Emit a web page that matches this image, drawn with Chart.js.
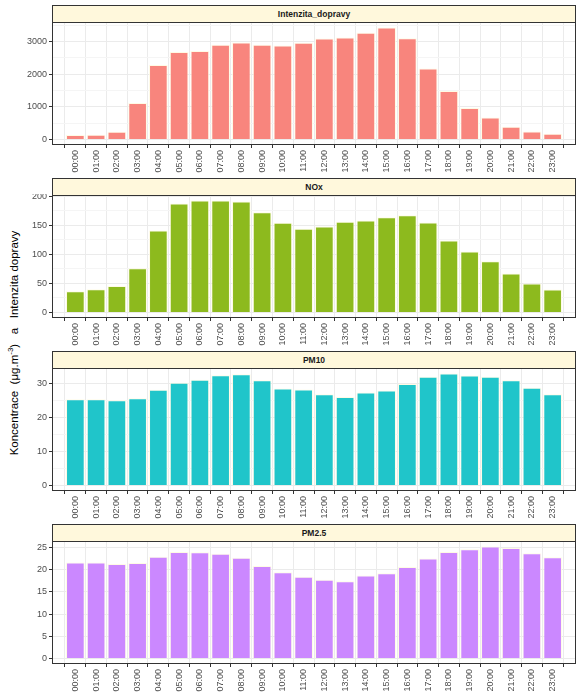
<!DOCTYPE html>
<html lang="cs">
  <head>
    <meta charset="UTF-8" />
    <title>Denní chod</title>
    <script src="https://cdn.jsdelivr.net/npm/chart.js@4"></script>
    <style>
      body { margin: 0; background: #fff; font-family: "Liberation Sans", Arial, sans-serif; }
      #wrap { position: relative; width: 581px; height: 697px; }
      canvas { position: absolute; left: 0; }
      .strip {
        position: absolute; left: 52px; width: 524px; height: 18px;
        box-sizing: border-box; border: 1px solid #333; background: #FFF8DC;
        font-weight: bold; font-size: 8.5px; color: #1a1a1a;
        text-align: center; line-height: 16px;
      }
      #ytitle {
        position: absolute; left: 13px; top: 343px; white-space: pre;
        transform: translate(-50%, -50%) rotate(-90deg);
        font-size: 11.5px; color: #000;
      }
      #ytitle sup { font-size: 8px; }
    </style>
  </head>
  <body>
    <div id="wrap">
      <div id="ytitle">Koncentrace  (μg.m<sup>-3</sup>)   a   Intenzita dopravy</div>
    </div>
  </body>
</html>

<script>
  // data
  const hours = ['00:00','01:00','02:00','03:00','04:00','05:00','06:00','07:00','08:00','09:00','10:00','11:00',
                 '12:00','13:00','14:00','15:00','16:00','17:00','18:00','19:00','20:00','21:00','22:00','23:00'];
  const intenzita = [132,142,233,1117,2284,2680,2711,2904,2975,2904,2883,2964,3096,3127,3269,3431,3107,2173,1482,964,670,386,244,173];
  const nox = [36.6,40,45.7,76,141,187.4,192.6,192.6,190.9,172.6,154.3,144,148,156,158.3,164,167.4,154.9,124,105,88,66.9,49.7,39.4];
  const pm10 = [25.4,25.4,25.1,25.7,28.2,30.3,31.2,32.5,32.8,31.0,28.6,28.3,26.9,26.1,27.4,28.0,29.9,32.1,33.0,32.4,32.1,31.0,28.8,26.9];
  const pm25 = [21.6,21.6,21.3,21.5,22.9,24.0,23.9,23.6,22.7,20.8,19.4,18.4,17.7,17.4,18.7,19.2,20.6,22.5,24.0,24.6,25.2,24.9,23.7,22.8];

  const panelNames = ['Intenzita_dopravy', 'NOx', 'PM10', 'PM2.5'];
  const majorTicks = [[0,1000,2000,3000], [0,50,100,150,200], [0,10,20,30], [0,5,10,15,20,25]];
  const minorTicks = [[500,1500,2500,3500], [25,75,125,175], [5,15,25], [2.5,7.5,12.5,17.5,22.5]];
  const series = [intenzita, nox, pm10, pm25];
  const colors = ['#F8857D', '#8DBA1E', '#20C5CA', '#CB88FF'];

  const stripTops = [5, 178, 351, 524];
  const plotH = 123;

  // panel border (theme_bw look)
  const frame = {
    id: 'frame',
    afterDraw(chart) {
      const a = chart.chartArea, c = chart.ctx;
      c.save();
      c.strokeStyle = '#333';
      c.lineWidth = 1;
      c.strokeRect(Math.round(a.left) + 0.5, Math.round(a.top) + 0.5, Math.round(a.right - a.left) - 1, Math.round(a.bottom - a.top) - 1);
      c.restore();
    }
  };

  const noPad = s => { s.paddingTop = 0; s.paddingBottom = 0; s.paddingLeft = 0; s.paddingRight = 0; };

  const wrap = document.getElementById('wrap');

  for (let p = 0; p < 4; p++) {
    const strip = document.createElement('div');
    strip.className = 'strip';
    strip.style.top = stripTops[p] + 'px';
    strip.textContent = panelNames[p];
    wrap.appendChild(strip);

    const cv = document.createElement('canvas');
    cv.width = 581;
    cv.height = 165;
    cv.style.top = (stripTops[p] + 17 - 1) + 'px';
    wrap.appendChild(cv);

    const vals = series[p];
    const majors = majorTicks[p], minors = minorTicks[p];
    const top = Math.max(...vals);
    const isMajor = v => majors.includes(v);

    new Chart(cv.getContext('2d'), {
      type: 'bar',
      data: {
        datasets: [{
          data: vals.map((v, i) => ({ x: i, y: v })),
          backgroundColor: colors[p],
          borderColor: 'rgba(255,250,225,0.85)',
          borderWidth: 1,
          barPercentage: 0.9,
          categoryPercentage: 1
        }]
      },
      options: {
        responsive: false,
        animation: false,
        layout: { padding: { top: 1, right: 5, left: 0, bottom: 0 } },
        plugins: { legend: { display: false }, tooltip: { enabled: false } },
        scales: {
          x: {
            type: 'linear',
            min: -0.6,
            max: hours.length - 0.4,
            afterBuildTicks: s => { s.ticks = hours.map((h, i) => ({ value: i })); },
            afterFit: s => { s.height = 165 - 1 - plotH; noPad(s); },
            grid: { color: '#EBEBEB', tickColor: '#333', tickLength: 3, lineWidth: 1 },
            border: { display: false },
            ticks: {
              autoSkip: false, minRotation: 90, maxRotation: 90, padding: 2,
              color: '#4D4D4D', font: { size: 9, family: 'Liberation Sans' },
              callback: v => hours[v]
            }
          },
          y: {
            min: -0.05 * top,
            max: 1.05 * top,
            afterBuildTicks: s => {
              s.ticks = majors.concat(minors).filter(v => v <= 1.05 * top).sort((a, b) => a - b).map(v => ({ value: v }));
            },
            afterFit: s => { s.width = 52; noPad(s); },
            grid: {
              color: c => isMajor(c.tick.value) ? '#EBEBEB' : '#F5F5F5',
              tickColor: c => isMajor(c.tick.value) ? '#333' : 'rgba(0,0,0,0)',
              tickLength: 3
            },
            border: { display: false },
            ticks: {
              padding: 2, color: '#4D4D4D', font: { size: 9, family: 'Liberation Sans' },
              callback: v => isMajor(v) ? String(v) : ''
            }
          }
        }
      },
      plugins: [frame]
    });
  }
</script>
